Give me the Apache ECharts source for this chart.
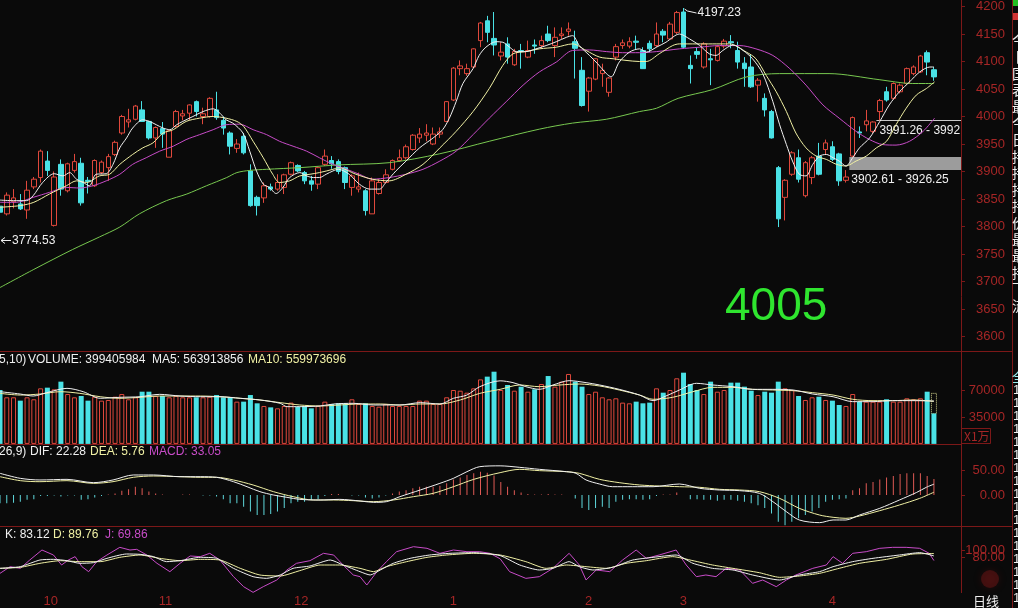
<!DOCTYPE html>
<html><head><meta charset="utf-8">
<script src="https://cdn.jsdelivr.net/npm/echarts@6/dist/echarts.min.js"></script>
<style>html,body{margin:0;padding:0;background:#0a0a0a;overflow:hidden}#c{width:1018px;height:608px}</style>
</head><body><div id="c"></div>
<script>
// ---------------- DATA ----------------
const openP = [3837,3823,3845,3841,3830,3872,3889,3919,3802,3913,
3865,3902,3915,3884,3874,3898,3907,3931,3970,3990,
3995,4012,3991,3961,3978,3926,3982,4001,4006,4027,
4000,4000,4012,3993,3970,3942,3964,3901,3853,3852,
3872,3868,3871,3895,3911,3898,3883,3877,3913,3920,
3918,3907,3871,3868,3865,3823,3860,3880,3904,3920,
3925,3940,3961,3966,3950,3968,3991,4030,4087,4078,
4090,4138,4174,4142,4110,4132,4094,4120,4108,4130,
4129,4150,4129,4147,4155,4136,4084,4046,4068,4078,
4044,4108,4129,4128,4137,4120,4133,4129,4155,4141,
4153,4190,4093,4118,4090,4105,4102,4128,4136,4120,
4097,4090,4057,4033,4009,3907,3853,3895,3925,3856,
3889,3928,3940,3945,3932,3884,3928,3972,3985,3973,
4009,4045,4033,4045,4060,4078,4081,4116,4085];
const closeP = [3826,3857,3852,3832,3866,3886,3937,3902,3890,3868,
3914,3918,3843,3882,3920,3917,3927,3953,4000,3994,
4019,3991,3961,3980,3968,3974,4009,4005,4021,4009,
4005,4033,3998,3979,3946,3950,3934,3838,3838,3874,
3868,3880,3894,3916,3901,3883,3877,3907,3928,3914,
3900,3880,3892,3872,3829,3883,3880,3894,3920,3925,
3945,3966,3968,3970,3968,3972,4027,4088,4092,4087,
4123,4170,4153,4130,4117,4108,4118,4118,4120,4128,
4138,4138,4144,4150,4159,4124,4020,4070,4105,4084,
4070,4127,4134,4136,4135,4087,4123,4150,4148,4168,
4189,4126,4087,4113,4132,4103,4127,4137,4134,4099,
4087,4054,4066,4012,3961,3814,3884,3934,3886,3916,
3925,3895,3952,3922,3883,3890,3998,3970,3992,3990,
4029,4030,4060,4057,4087,4090,4110,4099,4072];
const lowP = [3774.53,3820,3833,3830,3814,3868,3880,3892,3800,3856,
3862,3898,3838,3860,3872,3895,3883,3928,3967,3980,
3993,3990,3958,3943,3943,3926,3980,3993,3993,4000,
3986,3998,3994,3967,3931,3934,3931,3836,3820,3843,
3865,3865,3859,3893,3899,3877,3865,3868,3910,3905,
3895,3868,3856,3862,3820,3823,3858,3878,3902,3918,
3922,3938,3952,3955,3948,3961,3990,4028,4075,4074,
4088,4126,4135,4111,4102,4096,4092,4087,4106,4114,
4123,4135,4108,4141,4147,4069,4018,4009,4066,4054,
4036,4102,4123,4124,4122,4087,4117,4126,4135,4140,
4150,4124,4060,4105,4087,4057,4100,4124,4124,4087,
4054,4052,4027,4000,3960,3799,3811,3892,3880,3853,
3877,3893,3931,3919,3874,3880,3926.25,3961,3973,3970,
3992.5,4027,4031,4042,4058,4075,4079,4075,4065];
const highP = [3840,3862,3868,3859,3883,3890,3940,3937,3900,3922,
3916,3932,3925,3890,3922,3920,3932,3956,4003,4014,
4021,4028,3992,3982,3990,3976,4012,4012,4022,4029,
4016,4035,4045,4000,3973,3959,3970,3913,3856,3880,
3878,3895,3896,3918,3913,3901,3892,3909,3940,3928,
3922,3909,3895,3898,3868,3889,3886,3904,3922,3940,
3949,3968,3979,3986,3980,3980,4028,4090,4102,4096,
4124,4172,4183,4190,4135,4144,4123,4132,4138,4140,
4147,4165,4162,4162,4171,4156,4108,4072,4106,4096,
4072,4132,4140,4144,4147,4126,4138,4171,4159,4172,
4192,4197.23,4111,4125,4135,4123,4129,4141,4148,4136,
4108,4112,4070,4042,4012,3910,3886,3937,3940,3919,
3928,3952,3958,3955,3934,3902.61,4000,3982,4012,3991.26,
4032,4054,4062,4060,4089,4093,4112,4120,4090];
// volume in units of 万 (x10000)
const volume = [70900,61300,61300,56900,61300,58700,73100,74000,71800,81900,
65600,61300,63000,56900,62100,56900,57800,62100,65600,58700,
61300,68700,68700,63000,63000,61300,63000,61300,61300,61300,
61300,62100,64300,61300,61300,55600,55600,64300,53400,49900,
48100,46800,49900,54300,49000,49900,46800,49900,55600,52500,
53400,53400,58700,52500,53400,49900,49000,52500,49900,49900,
49900,49900,56900,56900,52500,52500,61300,70900,70000,67400,
73100,84900,88500,95000,70900,77500,70000,75300,68700,71800,
78800,89300,75300,81900,92000,81900,75300,65600,68700,61300,
58700,60000,54300,53400,55600,53400,54300,73100,67400,70900,
86300,93700,78800,70900,65600,81900,68700,70900,80600,80600,
75300,70000,64300,68700,67400,81900,73100,70900,63000,57800,
61300,62100,57800,56900,51200,49900,65600,55600,55600,55600,
55600,58700,55600,55600,60000,58700,60000,68700,39940.6];
const projectedVol = {idx:138, value:66500};
const macdHist = [-17,-17,-16,-14,-10,-9,-2,-2,-1,-3,
-1,-1,-10,-9,-5,-2,1,3,9,12,
17,14,7,3,1,0,0,1,1,0,
-1,-1,-3,-9,-17,-17,-24,-34,-41,-41,
-39,-34,-27,-17,-14,-14,-10,-9,-2,2,
2,0,-1,-1,-5,-7,-5,-1,3,7,
10,14,17,17,17,19,24,32,36,41,
45,48,46,40,27,17,10,5,2,1,
1,2,1,1,0,-7,-27,-31,-27,-24,
-27,-14,-10,-9,-9,-10,-9,-2,1,1,
5,0,-9,-9,-10,-10,-12,-10,-10,-12,
-14,-17,-21,-27,-38,-55,-62,-55,-48,-41,
-34,-27,-14,-10,-9,-7,10,14,24,27,
32,36,39,43,45,45,45,39,33.05];
// moving-average lines: [day index, value]
const ma5Pts = [[0,3848],[2,3847],[3.9,3847],[4.9,3856],[6.3,3880],[8,3896],[9.3,3892],[10.3,3898],[11.3,3886],[12.3,3880],[13.2,3874],[14.2,3895],[15.7,3896],[16.7,3913],[17.7,3943],[18.7,3961],[19.6,3979],[21.1,3994],[22.1,3991],[23.1,3985],[24.1,3979],[25.1,3976],[26.1,3985],[27,3991],[28.5,4000],[30,4009],[31.5,4014],[32.5,4006],[33.4,3994],[34.4,3988],[35.9,3970],[36.9,3937],[37.9,3901],[38.9,3877],[39.8,3871],[40.8,3860],[41.8,3871],[42.8,3889],[44.3,3898],[45.3,3892],[46.3,3889],[47.2,3889],[48.2,3895],[49.2,3901],
[50,3904],[51.6,3895],[53.1,3877],[54.6,3868],[56.1,3868],[57,3880],[58.5,3901],[60,3919],[62,3943],[64,3961],[65.4,3976],[66.4,3997],[67.4,4027],[68.4,4060],[69.9,4087],[70.8,4111],[71.8,4126],[73.3,4136],[74.3,4135],[75.3,4126],[76.3,4118],[77.7,4118],[79.2,4123],[80.7,4129],[82.2,4136],[83.7,4144],[84.6,4147],[85.6,4129],[87.1,4111],[88.3,4096],[89.6,4078],[90.3,4072],[91.5,4099],[93,4117],[94.5,4123],[95.5,4117],[97,4126],[98.4,4135],
[100.4,4150],[101.9,4141],[103.4,4129],[104.8,4114],[105.8,4111],[106.8,4120],[108.3,4130],[109.8,4120],[111.2,4105],[112.7,4078],[114.2,4027],[115.2,3985],[116.2,3949],[117.1,3919],[118.1,3895],[119.1,3892],[120.1,3913],[121.1,3928],[122.1,3931],[123.1,3925],[124,3919],[125,3910],[126,3925],[127,3943],[128.5,3961],[130,3991],[131.4,4021],[132.9,4045],[134.4,4063],[135.9,4081],[137.4,4090],[138,4090]];
const ma10Pts = [[0,3835],[3,3838],[5,3844],[7.3,3859],[9.8,3874],[11.3,3883],[12.8,3880],[14.7,3892],[16.2,3895],[17.7,3913],[19.6,3931],[21.1,3943],[22.6,3952],[24.1,3970],[25.6,3976],[27.5,3991],[29.5,3997],[31.5,4000],[33.4,3997],[35,3991],[36,3982],[37.4,3955],[38.9,3925],[40.3,3895],[41.3,3880],[42.8,3883],[44.3,3892],[45.8,3895],[47.2,3898],[49.2,3904],
[50,3907],[52.6,3895],[55,3886],[57.5,3883],[60,3895],[62.5,3913],[65,3943],[67.4,3973],[69.9,4009],[72.3,4051],[74.3,4093],[75.8,4114],[77.7,4118],[79.7,4123],[82.2,4126],[84.6,4132],[86.6,4120],[88.6,4108],[90.6,4105],[92.5,4102],[94.5,4100],[95.5,4100],[97.4,4114],[99.4,4129],
[100.4,4132],[102.9,4132],[105.3,4132],[107.8,4132],[110.3,4117],[111.7,4105],[113.2,4075],[114.7,4045],[116.2,4009],[117.6,3970],[119.1,3943],[120.6,3928],[122.1,3922],[123.6,3913],[125,3910],[126.5,3919],[128,3928],[129.5,3943],[131,3955],[132.4,3985],[133.9,4015],[135.4,4039],[136.9,4051],[138.1,4063]];
const ma20Pts = [[0,3844],[2.4,3844],[4.9,3853],[7.3,3862],[9.8,3871],[11.8,3870],[13.7,3874],[15.7,3883],[17.7,3895],[19.6,3913],[21.6,3925],[23.6,3937],[25.6,3946],[27.5,3958],[29.5,3967],[31.5,3976],[33.4,3985],[35.4,3986],[37.4,3976],[39.4,3967],[41.3,3955],[43.3,3946],[45.3,3937],[47.2,3925],[49.2,3913],
[51,3905],[53.1,3895],[55,3886],[57.5,3889],[60,3895],[62.5,3904],[65,3919],[67.4,3937],[69.9,3967],[72.3,3997],[74.8,4027],[77.3,4057],[79.7,4081],[82.2,4099],[84.6,4120],[87.1,4121],[89.6,4118],[92,4116],[94.5,4116],[97,4118],
[100.4,4123],[103.4,4126],[106.3,4129],[109.3,4129],[111.7,4123],[114.2,4111],[116.7,4087],[119.1,4057],[121.6,4021],[124,3997],[126.5,3973],[128.5,3958],[130.4,3949],[132.4,3948],[134.4,3955],[136.4,3973],[138.1,3997]];
const ma60Pts = [[0,3689],[5,3722],[10.7,3758],[14.7,3781],[17.7,3799],[20.6,3823],[24.6,3847],[27.6,3859],[30.5,3874],[33.5,3889],[35,3898],[36.9,3902],[39.4,3904],[44.3,3907],[50,3912],[57.5,3916],[64.9,3932],[72.3,3955],[79.7,3977],[84.6,3988],[89.6,3995],[94.5,4009],[97,4015],[100.2,4033],[105.3,4049],[110.3,4072],[115.2,4078],[122.5,4078],[129.9,4067],[134.8,4060],[138,4060]];
const volMa5Pts = [[0,68700],[3,65600],[4.9,63000],[6.9,67400],[9.9,73100],[12.3,68700],[14.8,60000],[17.7,61300],[20.7,62100],[23.6,65200],[26.6,63000],[29.6,62100],[32.5,62100],[35.5,60000],[38.4,57800],[41.4,53400],[42.4,49000],[44.3,49000],[47.3,49900],[49.3,52500],[52.2,53400],[55.2,51200],[59.1,51200],[62.1,54300],[65,52500],[67,60000],[69,64300],[70.9,75300],[73.9,83000],[75.8,80600],[77.7,75300],[79.7,71800],[81.7,77500],[84.1,83200],[86.6,80600],[88.6,77500],[91.5,71800],[94.5,64300],[96.5,56900],[98.4,63000],[100.4,70900],[102.9,79700],[105.3,77500],[108.3,75300],[111.2,71800],[114.2,71800],[117.2,70900],[120.1,65600],[123.1,62100],[126,55600],[129,55600],[131.9,56900],[134.9,56900],[138,56391]];
const volMa10Pts = [[0,66500],[3,64300],[5.9,65600],[8.9,68700],[11.8,66500],[14.8,62100],[17.7,60000],[20.7,61300],[23.6,63000],[26.6,63000],[29.6,63000],[32.5,62100],[35.5,60000],[38.4,57800],[41.4,54300],[44.3,51200],[47.3,49900],[50.2,51200],[53.2,52500],[56.2,52500],[59.1,51200],[62.1,52500],[65,52500],[68,57800],[70.9,66500],[73.9,71800],[76.8,77500],[79.7,75300],[82.7,77500],[85.6,78800],[88.6,76200],[91.5,70900],[94.5,64300],[96.5,58700],[99.4,61300],[102.4,68700],[105.3,74400],[108.3,74400],[111.2,71800],[114.2,70900],[117.2,70000],[120.1,67400],[123.1,64300],[126,58700],[129,56900],[131.9,56900],[134.9,57800],[138,55997]];
const difPts = [[0,44.6],[3,34.3],[5.9,30.9],[9.9,32.2],[13.8,25.4],[16.7,30.9],[19.7,41.2],[22.7,41.2],[26.6,37.7],[29.6,37.7],[32,36.4],[34.5,27.4],[36.5,17.1],[38.4,6.9],[40.4,0],[42.4,-4.8],[44.3,-9],[47.3,-10.3],[50.2,-9],[53.2,-12.3],[55.2,-15.1],[57.1,-13.7],[59.1,-3.4],[62.1,10.3],[65,24],[67,34.3],[69,48],[70.9,58.3],[73.9,60],[76.8,56.9],[79.7,52.8],[83.7,48],[85.1,44.6],[86.6,30.9],[88.6,22.6],[90.5,17.1],[93.5,17.1],[96.5,17.1],[100.4,22.6],[103.4,13.7],[106.3,10.3],[109.3,8.9],[112.2,3.4],[114.2,-13.7],[116.2,-34.3],[118.1,-51.4],[121.1,-56.9],[123.1,-51.4],[125,-51.4],[127,-41.2],[130,-27.4],[132.9,-10.3],[135.4,5],[136.9,16],[138,22.28]];
const deaPts = [[0,37.7],[3,29.5],[5.9,27.4],[9.9,29.5],[13.8,24],[16.7,27.4],[19.7,36.4],[22.7,39.1],[26.6,37.7],[29.6,36.4],[32,36.4],[34.5,30.9],[37.4,20.6],[40.4,6.9],[43.3,-3.4],[46.3,-10.3],[49.3,-10.3],[52.2,-11.7],[55.2,-13.7],[58.1,-10.3],[61.1,-3.4],[64,3.4],[67,17.1],[70,32.2],[73.9,46],[76.8,52.8],[79.7,50.1],[83.7,48],[85.6,44.6],[88.6,32.2],[91.5,25.4],[94.5,20.6],[97.4,18.5],[100.4,17.1],[103.4,15.8],[106.3,11.7],[109.3,10.3],[112.2,6.9],[115.2,-6.9],[118.1,-27.4],[121.1,-41.2],[123.1,-45.9],[125,-48],[127,-43.2],[130,-32.2],[132.9,-20.6],[135.9,-6.9],[138,5.76]];
const kPts = [[0,47.6],[3,52.4],[5.9,71.4],[7.9,73.3],[9.9,69.5],[11.8,61.9],[13.8,63.8],[15.8,76.2],[18.7,88.6],[20.7,87.6],[22.7,81],[24.6,66.7],[26.6,69.5],[29.6,79],[32,76.2],[34.5,47.6],[37.4,23.8],[39.4,19],[41.4,28.6],[43.3,47.6],[45.8,54.3],[48.8,71.4],[50.7,57.1],[53.2,38.1],[54.7,28.6],[56.2,42.9],[58.1,61.9],[60.6,76.2],[63.5,85.7],[66.5,90.5],[70,92.4],[73.9,84],[76.8,57.1],[79.7,42.9],[81.7,47.6],[84.1,66.7],[85.6,52.4],[87.6,42.9],[90.5,50.5],[93.5,71.4],[96.5,79],[99.9,85.7],[102.4,61.9],[105.3,47.6],[108.3,42.9],[111.2,28.6],[115.2,14.3],[118.1,28.6],[121.1,38.1],[123.1,52.4],[126,66.7],[129,76.2],[132.9,85.7],[135.9,92.4],[138,83.12]];
const dPts = [[0,47.6],[3,50.5],[5.9,61.9],[8.9,69.5],[11.8,66.7],[14.8,66.7],[17.7,79],[20.7,85.7],[23.6,76.2],[26.6,69.5],[29.6,73.3],[32.5,71.4],[35.5,47.6],[38.4,28.6],[41.4,25.7],[44.3,41],[47.3,57.1],[50.2,57.1],[53.2,47.6],[55.2,38.1],[57.1,52.4],[60.1,66.7],[63.1,79],[66,85.7],[70,90.5],[73.9,85.7],[77.7,66.7],[80.7,47.6],[83.7,57.1],[86.6,52.4],[89.6,47.6],[92.5,61.9],[95.5,69.5],[99.4,81],[102.4,69.5],[105.3,57.1],[108.3,47.6],[112.2,35.2],[115.2,21.9],[118.1,25.7],[121.1,33.3],[124,47.6],[127,61.9],[131,73.3],[134.9,88.6],[138,89.76]];
const jPts = [[0,33.3],[1.5,52.4],[3,47.6],[4.4,71.4],[6.2,100],[7.9,85.7],[9.1,57.1],[10.1,71.4],[11.1,81],[12.1,52.4],[13.1,38.1],[14.3,66.7],[15.8,85.7],[17.7,107.6],[19.2,100],[20.2,101.9],[21.7,85.7],[23.2,61.9],[25.1,38.1],[26.6,61.9],[28.1,82.9],[29.6,81],[31,90.5],[32.5,71.4],[34.5,23.8],[36,-4.8],[37.4,-21],[38.9,-4.8],[40.9,14.3],[42.4,42.9],[43.8,61.9],[45.8,69.5],[47.8,90.5],[49.3,85.7],[50.7,57.1],[52.2,28.6],[53.2,23.8],[54.2,0],[55.7,38.1],[57.1,66.7],[58.6,95.2],[61.1,109.5],[63.1,104.8],[65,90.5],[67,100],[69,95.2],[70.9,95.2],[72.4,90.5],[73.9,75],[75.3,38.1],[77.7,19],[79.7,23.8],[81.7,47.6],[84.1,90.5],[85.6,57.1],[86.6,14.3],[88.1,42.9],[90.1,38.1],[92,71.4],[94,100],[95.5,76.2],[97.4,85.7],[99.9,100],[101.4,57.1],[102.9,23.8],[104.3,28.6],[105.8,23.8],[107.3,47.6],[109.3,42.9],[111.2,4.8],[112.7,14.3],[114.7,-4.8],[116.2,14.3],[117.6,28.6],[120.1,47.6],[122.1,57.1],[123.1,81],[124.5,61.9],[126,90.5],[128,95.2],[130,104.8],[131.9,107.6],[133.9,107.6],[135.9,104.8],[137.3,90.5],[138,69.86]];
// tick labels
const monthLabels = ['10','11','12','1','2','3','4'];
const monthStart = [6,23,43,66,86,100,122];
const priceTicks = [3600,3650,3700,3750,3800,3850,3900,3950,4000,4050,4100,4150,4200];
const volTicks = [35000,70000];
const macdTicks = [0,50];
const kdjTicksA = [100];
const kdjTicksB = [80];
// annotation levels
const highMark = {idx:101, value:4197.23, text:'4197.23'};
const lowMark = {idx:0, value:3774.53, text:'3774.53'};
const gapLow = {fromIdx:125.5, lo:3902.61, hi:3926.25, text:'3902.61 - 3926.25'};
const gapHigh = {fromIdx:129.5, lo:3991.26, hi:3992.53, text:'3991.26 - 3992'};
const legendVol = ['5,10)','VOLUME: 399405984','MA5: 563913856','MA10: 559973696'];
const legendMacd = ['26,9)','DIF: 22.28','DEA: 5.76','MACD: 33.05'];
const legendKdj = ['K: 83.12','D: 89.76','J: 69.86'];
const bigText = '4005';

// ---------------- STYLE ----------------
const BG='#0a0a0a', RD='#e0483c', CY='#4ae2e6', AX='#a62626', SEP='#7c1818';
const WH='#f0f0f0', YE='#f0f0a4', MG='#c84cc8', GR='#78c850';
const FONT='Liberation Sans, Arial, sans-serif', CJK='Noto Sans CJK SC, sans-serif';
const NCAT = 143;
const cats = Array.from({length:NCAT},(_,i)=>String(i));

const chart = echarts.init(document.getElementById('c'), null, {renderer:'canvas'});
const catAxis = g => ({type:'category', gridIndex:g, data:cats, boundaryGap:false, show:false});
const valAxis = g => ({type:'value', gridIndex:g, min:0, max:NCAT-1, show:false});
const yBase = (g, min, max, interval, ticks, fmt) => ({
  type:'value', gridIndex:g, position:'right', min, max, interval,
  axisLine:{show:false, onZero:false}, splitLine:{show:false},
  axisTick:{show:true, length:4, lineStyle:{color:SEP}, customValues:ticks},
  axisLabel:{show:true, color:AX, fontSize:13, fontFamily:FONT, align:'right', margin:44, hideOverlap:false,
    customValues:ticks, formatter: v => ticks.indexOf(v) >= 0 ? fmt(v) : ''}
});
const line = (xi, yi, data, color, smooth) => ({type:'line', xAxisIndex:xi, yAxisIndex:yi, data, showSymbol:false,
  smooth: smooth, silent:true, lineStyle:{width:1, color}, itemStyle:{color}});

const option = {
  backgroundColor: BG, animation:false,
  grid:[
    {left:0, top:0, width:961, height:336.5},
    {left:0, top:364.1, width:961, height:79.8},
    {left:0, top:422.1, width:961, height:121.5},
    {left:0, top:529, width:961, height:77},
    {left:0, top:593, width:961, height:15}
  ],
  xAxis:[catAxis(0),catAxis(1),catAxis(2),catAxis(3),valAxis(0),valAxis(1),valAxis(2),valAxis(3),
    {type:'category', gridIndex:4, data:cats, boundaryGap:false, position:'top',
     axisLine:{show:true, lineStyle:{color:SEP, width:1}},
     axisTick:{show:true, inside:true, length:15, interval:(i)=>monthStart.indexOf(i)>=0, lineStyle:{color:SEP}},
     axisLabel:{show:true, inside:true, interval:(i)=>monthStart.indexOf(i)>=0,
       formatter:(v)=>{const k=monthStart.indexOf(Number(v)); return k>=0?monthLabels[k]:'';},
       color:AX, fontSize:13, fontFamily:FONT, align:'left', margin:2, padding:[0,0,0,3]}}
  ],
  yAxis:[
    yBase(0, 3600, 4203.05, 50, priceTicks, v=>String(v)),
    yBase(1, 0, 104999, 35000, volTicks, v=>String(v)),
    yBase(2, -100, 150, 50, macdTicks, v=>v.toFixed(2)),
    yBase(3, -60, 160, 20, kdjTicksA, v=>v.toFixed(2)),
    {type:'value', gridIndex:4, show:false},
    yBase(3, -60, 160, 20, kdjTicksB, v=>v.toFixed(2))
  ],
  series:[
    {type:'candlestick', xAxisIndex:0, yAxisIndex:0, barWidth:5, silent:true,
     data: openP.map((o,i)=>[o, closeP[i], lowP[i], highP[i]]),
     itemStyle:{color:'rgba(0,0,0,0)', color0:CY, borderColor:RD, borderColor0:CY, borderWidth:1}},
    line(4,0,ma60Pts,GR,0.3),
    line(4,0,ma20Pts,MG,0.3),
    line(4,0,ma10Pts,YE,0.3),
    line(4,0,ma5Pts,WH,0.3),
    {type:'bar', xAxisIndex:1, yAxisIndex:1, barWidth:5, silent:true,
     data: volume.map((v,i)=>({value:v, itemStyle: closeP[i]>=openP[i]
        ? {color:'rgba(0,0,0,0)', borderColor:RD, borderWidth:1} : {color:CY}}))},
    line(5,1,volMa10Pts,YE,0.3),
    line(5,1,volMa5Pts,WH,0.3),
    {type:'bar', xAxisIndex:2, yAxisIndex:2, barWidth:1, silent:true,
     data: macdHist.map(v=>({value:v, itemStyle:{color: v>=0 ? '#e05a55' : '#5fd8dc'}}))},
    line(6,2,deaPts,YE,0.3),
    line(6,2,difPts,WH,0.3),
    line(7,3,jPts,MG,false),
    line(7,3,dPts,YE,0.2),
    line(7,3,kPts,WH,0.2)
  ]
};
chart.setOption(option);

// ---------------- annotations (positions from the library's scales) ----------------
const px = (i, v) => chart.convertToPixel({xAxisIndex:4, yAxisIndex:0}, [i, v]);
const pv = (i, v) => chart.convertToPixel({xAxisIndex:5, yAxisIndex:1}, [i, v]);
const T = (text, x, y, fill, size, family, align) => ({type:'text', x, y, silent:true,
  style:{text, fill, fontSize:size||12, fontFamily:family||FONT, verticalAlign:'middle', align:align||'left'}});
const L = (x1,y1,x2,y2,stroke,w) => ({type:'line', silent:true, shape:{x1,y1,x2,y2}, style:{stroke, lineWidth:w||1}});
const els = [];
// separators
els.push(L(0,351.5,1012,351.5,SEP), L(0,444.5,961,444.5,SEP), L(0,526.5,1012,526.5,SEP),
         L(961.5,0,961.5,593,SEP), L(1012.5,0,1012.5,608,SEP));
// high / low marks
const hp = px(highMark.idx, highMark.value);
els.push({type:'polyline', silent:true, shape:{points:[[hp[0]+1,hp[1]+1],[hp[0]+4,hp[1]+3],[hp[0]+13,hp[1]+5]]}, style:{stroke:WH, lineWidth:1, fill:null}});
els.push(T(highMark.text, hp[0]+14, hp[1]+5, WH, 12));
const lp = px(lowMark.idx, lowMark.value);
els.push(L(lp[0]+1, lp[1], lp[0]+11, lp[1], WH));
els.push({type:'polyline', silent:true, shape:{points:[[lp[0]+5,lp[1]-3],[lp[0]+1,lp[1]],[lp[0]+5,lp[1]+3]]}, style:{stroke:WH, lineWidth:1, fill:null}});
els.push(T(lowMark.text, lp[0]+12, lp[1], WH, 12));
// gap band
const g1 = px(gapLow.fromIdx, gapLow.hi), g2 = px(gapLow.fromIdx, gapLow.lo);
els.push({type:'rect', silent:true, shape:{x:g1[0], y:g1[1], width:961-g1[0], height:g2[1]-g1[1]}, style:{fill:'#9c9c9c'}});
els.push(T(gapLow.text, g1[0]+2, g2[1]+10, WH, 12));
const h1 = px(gapHigh.fromIdx, (gapHigh.lo+gapHigh.hi)/2);
els.push(L(h1[0], Math.round(h1[1])-0.5, 961, Math.round(h1[1])-0.5, '#c8c8c8'));
els.push(T(gapHigh.text, h1[0]+3, h1[1]+10, WH, 12));
// projected volume (dotted box above the last bar)
const pa = pv(projectedVol.idx, projectedVol.value), pb = pv(projectedVol.idx, volume[projectedVol.idx]);
els.push({type:'rect', silent:true, shape:{x:pa[0]-2.5, y:pa[1], width:5, height:pb[1]-pa[1]}, style:{fill:null, stroke:'#d8d890', lineWidth:1, lineDash:[1,1]}});
// legends
els.push(T(legendVol[0], -1, 360, WH), T(legendVol[1], 28, 360, WH), T(legendVol[2], 152, 360, WH), T(legendVol[3], 248, 360, YE));
els.push(T(legendMacd[0], -1, 452, WH), T(legendMacd[1], 30, 452, WH), T(legendMacd[2], 90, 452, YE), T(legendMacd[3], 149, 452, MG));
els.push(T(legendKdj[0], 5, 535, WH), T(legendKdj[1], 53, 535, YE), T(legendKdj[2], 105, 535, MG));
// big green number
els.push(T(bigText, 725, 307, '#2fe52f', 46));
// X1万 box and 日线
els.push({type:'rect', silent:true, shape:{x:961.5, y:428.5, width:29, height:15}, style:{fill:null, stroke:SEP, lineWidth:1}});
els.push(T('X1万', 964, 436, AX, 12, CJK));
els.push(T('日线', 973, 601, WH, 13, CJK));
els.push({type:'circle', silent:true, shape:{cx:990, cy:579, r:9}, style:{fill:'rgba(150,25,25,0.35)', shadowBlur:8, shadowColor:'rgba(150,25,25,0.5)'}});
// right side status column (clipped by the window edge)
els.push({type:'rect', silent:true, shape:{x:1013, y:0, width:6, height:6}, style:{fill:'#22c022'}});
els.push({type:'rect', silent:true, shape:{x:1013, y:13, width:6, height:7}, style:{fill:'#d03434'}});
const colChars = '今卜国表最今日持持持持价最最持下流';
for (let k=0;k<colChars.length;k++) els.push(T(colChars[k], 1012, 40+k*16.6, WH, 14, CJK));
els.push(T('全', 1012, 377, '#9ee', 14, CJK));
for (let k=0;k<17;k++) els.push(T('1', 1013, 390+k*13, WH, 13));
chart.setOption({graphic:{elements:els}});
</script>
</body></html>
